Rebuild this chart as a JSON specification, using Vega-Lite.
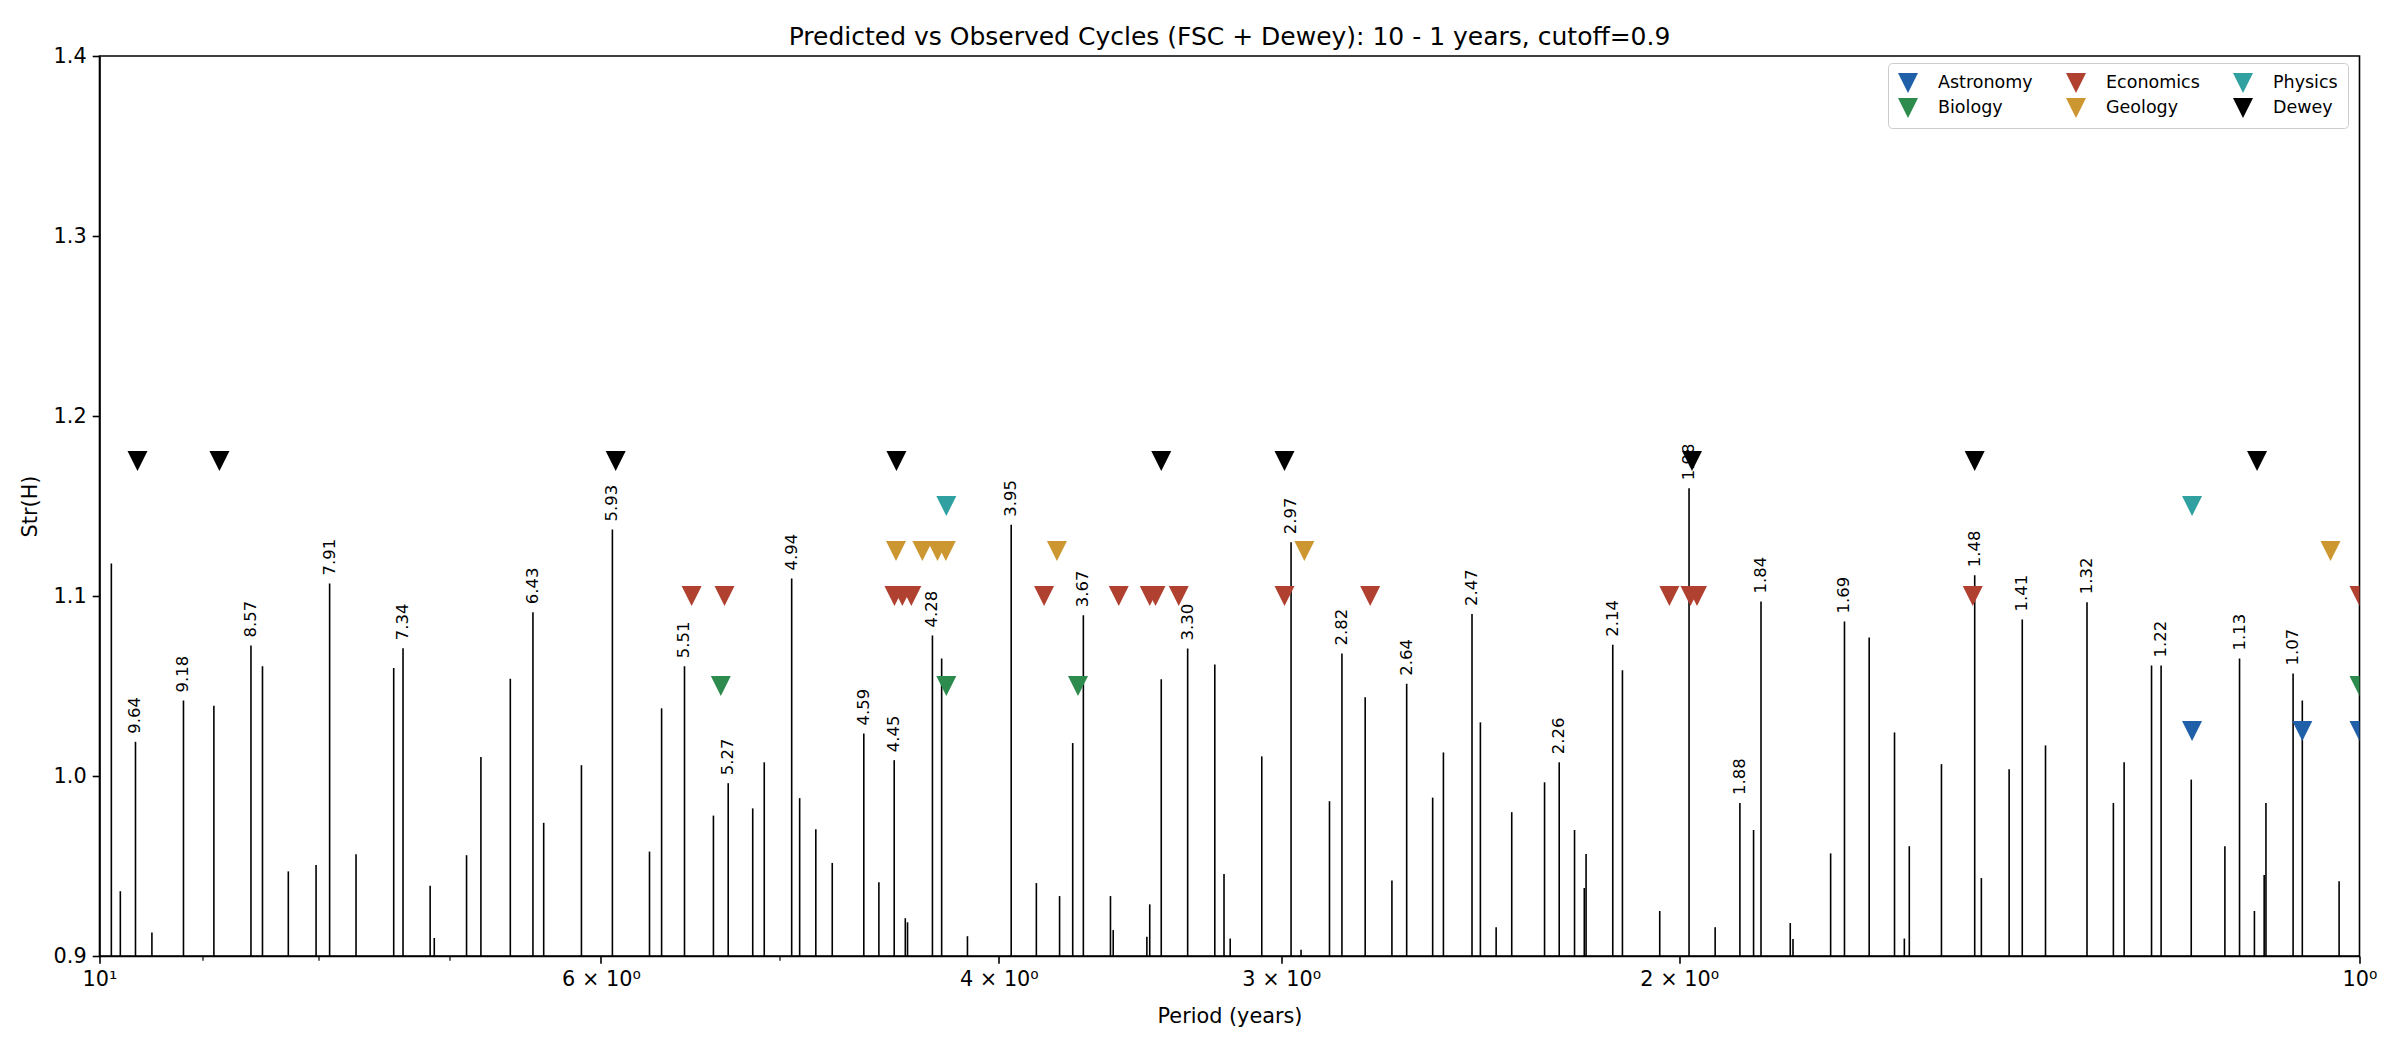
{
  "$schema": "https://vega.github.io/schema/vega-lite/v6.json",
  "autosize": {"type": "none"},
  "width": 2260,
  "height": 900,
  "padding": {"left": 99.5, "top": 56, "right": 40.5, "bottom": 94},
  "background": "white",
  "config": {
    "font": "DejaVu Sans",
    "view": {"stroke": "black", "strokeWidth": 1.6},
    "axis": {
      "grid": false,
      "domainColor": "black",
      "domainWidth": 1.6,
      "tickColor": "black",
      "labelColor": "black",
      "titleColor": "black",
      "labelFont": "DejaVu Sans",
      "titleFont": "DejaVu Sans",
      "labelFontSize": 20.8,
      "titleFontSize": 20.8,
      "titleFontWeight": "normal"
    }
  },
  "title": {
    "text": "Predicted vs Observed Cycles (FSC + Dewey): 10 - 1 years, cutoff=0.9",
    "anchor": "middle",
    "fontSize": 25,
    "fontWeight": "normal",
    "font": "DejaVu Sans",
    "color": "black",
    "offset": -5
  },
  "datasets": {
    "peaks": [
      {"period": 9.88, "strength": 1.118, "label": ""},
      {"period": 9.79, "strength": 0.936, "label": ""},
      {"period": 9.64, "strength": 1.019, "label": "9.64"},
      {"period": 9.48, "strength": 0.913, "label": ""},
      {"period": 9.18, "strength": 1.042, "label": "9.18"},
      {"period": 8.90, "strength": 1.039, "label": ""},
      {"period": 8.57, "strength": 1.0725, "label": "8.57"},
      {"period": 8.47, "strength": 1.061, "label": ""},
      {"period": 8.25, "strength": 0.947, "label": ""},
      {"period": 8.02, "strength": 0.9505, "label": ""},
      {"period": 7.91, "strength": 1.107, "label": "7.91"},
      {"period": 7.70, "strength": 0.9565, "label": ""},
      {"period": 7.41, "strength": 1.060, "label": ""},
      {"period": 7.34, "strength": 1.071, "label": "7.34"},
      {"period": 7.14, "strength": 0.939, "label": ""},
      {"period": 7.11, "strength": 0.910, "label": ""},
      {"period": 6.88, "strength": 0.956, "label": ""},
      {"period": 6.78, "strength": 1.0105, "label": ""},
      {"period": 6.58, "strength": 1.054, "label": ""},
      {"period": 6.43, "strength": 1.091, "label": "6.43"},
      {"period": 6.36, "strength": 0.974, "label": ""},
      {"period": 6.12, "strength": 1.006, "label": ""},
      {"period": 5.93, "strength": 1.137, "label": "5.93"},
      {"period": 5.71, "strength": 0.958, "label": ""},
      {"period": 5.64, "strength": 1.0376, "label": ""},
      {"period": 5.51, "strength": 1.061, "label": "5.51"},
      {"period": 5.35, "strength": 0.978, "label": ""},
      {"period": 5.27, "strength": 0.996, "label": "5.27"},
      {"period": 5.14, "strength": 0.982, "label": ""},
      {"period": 5.08, "strength": 1.0076, "label": ""},
      {"period": 4.94, "strength": 1.1097, "label": "4.94"},
      {"period": 4.90, "strength": 0.9877, "label": ""},
      {"period": 4.82, "strength": 0.9704, "label": ""},
      {"period": 4.74, "strength": 0.9517, "label": ""},
      {"period": 4.59, "strength": 1.0236, "label": "4.59"},
      {"period": 4.52, "strength": 0.941, "label": ""},
      {"period": 4.45, "strength": 1.0088, "label": "4.45"},
      {"period": 4.40, "strength": 0.921, "label": ""},
      {"period": 4.39, "strength": 0.9187, "label": ""},
      {"period": 4.28, "strength": 1.078, "label": "4.28"},
      {"period": 4.24, "strength": 1.0653, "label": ""},
      {"period": 4.13, "strength": 0.911, "label": ""},
      {"period": 3.95, "strength": 1.1396, "label": "3.95"},
      {"period": 3.85, "strength": 0.9405, "label": ""},
      {"period": 3.76, "strength": 0.9333, "label": ""},
      {"period": 3.71, "strength": 1.0183, "label": ""},
      {"period": 3.67, "strength": 1.0893, "label": "3.67"},
      {"period": 3.57, "strength": 0.9333, "label": ""},
      {"period": 3.56, "strength": 0.9144, "label": ""},
      {"period": 3.44, "strength": 0.9107, "label": ""},
      {"period": 3.43, "strength": 0.9287, "label": ""},
      {"period": 3.39, "strength": 1.0538, "label": ""},
      {"period": 3.30, "strength": 1.0708, "label": "3.30"},
      {"period": 3.21, "strength": 1.062, "label": ""},
      {"period": 3.18, "strength": 0.9456, "label": ""},
      {"period": 3.16, "strength": 0.9097, "label": ""},
      {"period": 3.06, "strength": 1.0109, "label": ""},
      {"period": 2.97, "strength": 1.1298, "label": "2.97"},
      {"period": 2.94, "strength": 0.9035, "label": ""},
      {"period": 2.856, "strength": 0.986, "label": ""},
      {"period": 2.82, "strength": 1.068, "label": "2.82"},
      {"period": 2.754, "strength": 1.0437, "label": ""},
      {"period": 2.68, "strength": 0.942, "label": ""},
      {"period": 2.64, "strength": 1.0513, "label": "2.64"},
      {"period": 2.571, "strength": 0.988, "label": ""},
      {"period": 2.543, "strength": 1.0131, "label": ""},
      {"period": 2.47, "strength": 1.090, "label": "2.47"},
      {"period": 2.449, "strength": 1.0298, "label": ""},
      {"period": 2.41, "strength": 0.916, "label": ""},
      {"period": 2.372, "strength": 0.9799, "label": ""},
      {"period": 2.294, "strength": 0.9965, "label": ""},
      {"period": 2.26, "strength": 1.0076, "label": "2.26"},
      {"period": 2.225, "strength": 0.970, "label": ""},
      {"period": 2.203, "strength": 0.9378, "label": ""},
      {"period": 2.199, "strength": 0.9567, "label": ""},
      {"period": 2.14, "strength": 1.0729, "label": "2.14"},
      {"period": 2.119, "strength": 1.0587, "label": ""},
      {"period": 2.040, "strength": 0.925, "label": ""},
      {"period": 1.98, "strength": 1.1598, "label": "1.98"},
      {"period": 1.928, "strength": 0.916, "label": ""},
      {"period": 1.88, "strength": 0.985, "label": "1.88"},
      {"period": 1.854, "strength": 0.970, "label": ""},
      {"period": 1.84, "strength": 1.0969, "label": "1.84"},
      {"period": 1.786, "strength": 0.9183, "label": ""},
      {"period": 1.781, "strength": 0.9094, "label": ""},
      {"period": 1.714, "strength": 0.957, "label": ""},
      {"period": 1.69, "strength": 1.0858, "label": "1.69"},
      {"period": 1.648, "strength": 1.077, "label": ""},
      {"period": 1.606, "strength": 1.0242, "label": ""},
      {"period": 1.590, "strength": 0.9097, "label": ""},
      {"period": 1.582, "strength": 0.961, "label": ""},
      {"period": 1.531, "strength": 1.0066, "label": ""},
      {"period": 1.48, "strength": 1.1115, "label": "1.48"},
      {"period": 1.470, "strength": 0.9433, "label": ""},
      {"period": 1.429, "strength": 1.0037, "label": ""},
      {"period": 1.41, "strength": 1.087, "label": "1.41"},
      {"period": 1.377, "strength": 1.017, "label": ""},
      {"period": 1.32, "strength": 1.0965, "label": "1.32"},
      {"period": 1.285, "strength": 0.985, "label": ""},
      {"period": 1.271, "strength": 1.0076, "label": ""},
      {"period": 1.236, "strength": 1.0614, "label": ""},
      {"period": 1.224, "strength": 1.0614, "label": "1.22"},
      {"period": 1.187, "strength": 0.998, "label": ""},
      {"period": 1.147, "strength": 0.961, "label": ""},
      {"period": 1.13, "strength": 1.0653, "label": "1.13"},
      {"period": 1.113, "strength": 0.925, "label": ""},
      {"period": 1.102, "strength": 0.945, "label": ""},
      {"period": 1.100, "strength": 0.985, "label": ""},
      {"period": 1.07, "strength": 1.0569, "label": "1.07"},
      {"period": 1.060, "strength": 1.042, "label": ""},
      {"period": 1.021, "strength": 0.9415, "label": ""}
    ],
    "cycles": [
      {"source": "Dewey", "period": 9.62, "level": 1.175},
      {"source": "Dewey", "period": 8.85, "level": 1.175},
      {"source": "Dewey", "period": 5.91, "level": 1.175},
      {"source": "Dewey", "period": 4.44, "level": 1.175},
      {"source": "Dewey", "period": 3.39, "level": 1.175},
      {"source": "Dewey", "period": 2.99, "level": 1.175},
      {"source": "Dewey", "period": 1.974, "level": 1.175},
      {"source": "Dewey", "period": 1.48, "level": 1.175},
      {"source": "Dewey", "period": 1.11, "level": 1.175},
      {"source": "Physics", "period": 4.22, "level": 1.15},
      {"source": "Physics", "period": 1.186, "level": 1.15},
      {"source": "Geology", "period": 4.442, "level": 1.125},
      {"source": "Geology", "period": 4.324, "level": 1.125},
      {"source": "Geology", "period": 4.258, "level": 1.125},
      {"source": "Geology", "period": 4.222, "level": 1.125},
      {"source": "Geology", "period": 3.77, "level": 1.125},
      {"source": "Geology", "period": 2.93, "level": 1.125},
      {"source": "Geology", "period": 1.03, "level": 1.125},
      {"source": "Economics", "period": 5.47, "level": 1.1},
      {"source": "Economics", "period": 5.29, "level": 1.1},
      {"source": "Economics", "period": 4.449, "level": 1.1},
      {"source": "Economics", "period": 4.413, "level": 1.1},
      {"source": "Economics", "period": 4.373, "level": 1.1},
      {"source": "Economics", "period": 3.82, "level": 1.1},
      {"source": "Economics", "period": 3.54, "level": 1.1},
      {"source": "Economics", "period": 3.43, "level": 1.1},
      {"source": "Economics", "period": 3.41, "level": 1.1},
      {"source": "Economics", "period": 3.33, "level": 1.1},
      {"source": "Economics", "period": 2.99, "level": 1.1},
      {"source": "Economics", "period": 2.74, "level": 1.1},
      {"source": "Economics", "period": 2.02, "level": 1.1},
      {"source": "Economics", "period": 1.977, "level": 1.1},
      {"source": "Economics", "period": 1.964, "level": 1.1},
      {"source": "Economics", "period": 1.483, "level": 1.1},
      {"source": "Economics", "period": 1.0, "level": 1.1},
      {"source": "Biology", "period": 5.31, "level": 1.05},
      {"source": "Biology", "period": 4.22, "level": 1.05},
      {"source": "Biology", "period": 3.69, "level": 1.05},
      {"source": "Biology", "period": 1.0, "level": 1.05},
      {"source": "Astronomy", "period": 1.186, "level": 1.025},
      {"source": "Astronomy", "period": 1.06, "level": 1.025},
      {"source": "Astronomy", "period": 1.0, "level": 1.025}
    ]
  },
  "encoding": {
    "x": {
      "field": "period",
      "type": "quantitative",
      "scale": {"type": "log", "domain": [1, 10], "reverse": true, "nice": false},
      "axis": {
        "title": "Period (years)",
        "values": [1, 2, 3, 4, 5, 6, 7, 8, 9, 10],
        "labelExpr": "datum.value == 10 ? '10¹' : datum.value == 1 ? '10⁰' : indexof([2, 3, 4, 6], datum.value) >= 0 ? datum.value + ' × 10⁰' : ''",
        "labelPadding": 6,
        "labelFlush": false,
        "labelOverlap": false,
        "tickSize": {"condition": {"test": "indexof([1, 2, 3, 4, 6, 10], datum.value) >= 0", "value": 7.3}, "value": 4.2},
        "tickWidth": {"condition": {"test": "indexof([1, 2, 3, 4, 6, 10], datum.value) >= 0", "value": 1.6}, "value": 1.2},
        "titleY": 66,
        "titleBaseline": "alphabetic"
      }
    }
  },
  "layer": [
    {
      "data": {"name": "peaks"},
      "mark": {"type": "rule", "color": "#000000", "strokeWidth": 1.6},
      "encoding": {
        "y": {
          "field": "strength",
          "type": "quantitative",
          "scale": {"domain": [0.9, 1.4], "nice": false, "zero": false},
          "axis": {
            "title": "Str(H)",
            "values": [0.9, 1.0, 1.1, 1.2, 1.3, 1.4],
            "format": ".1f",
            "tickSize": 7.3,
            "tickWidth": 1.6,
            "labelPadding": 6,
            "titleX": -69,
            "titleBaseline": "middle"
          }
        },
        "y2": {"datum": 0.9}
      }
    },
    {
      "data": {"name": "peaks"},
      "transform": [{"filter": "datum.label != ''"}],
      "mark": {
        "type": "text",
        "angle": 270,
        "align": "left",
        "baseline": "middle",
        "dx": 8,
        "fontSize": 16.5,
        "font": "DejaVu Sans",
        "color": "black"
      },
      "encoding": {
        "y": {"field": "strength", "type": "quantitative"},
        "text": {"field": "label"}
      }
    },
    {
      "data": {"name": "cycles"},
      "mark": {
        "type": "point",
        "shape": "M-1,-1L1,-1L0,1Z",
        "filled": true,
        "opacity": 1,
        "size": 400,
        "strokeWidth": 0,
        "clip": true
      },
      "encoding": {
        "y": {"field": "level", "type": "quantitative"},
        "color": {
          "field": "source",
          "type": "nominal",
          "scale": {
            "domain": ["Astronomy", "Biology", "Economics", "Geology", "Physics", "Dewey"],
            "range": ["#2060a8", "#2e8b4e", "#b04030", "#cc9630", "#30a0a0", "#000000"]
          },
          "legend": {
            "title": null,
            "orient": "none",
            "legendX": 1788.5,
            "legendY": 7,
            "columns": 3,
            "symbolType": "M-1,-1L1,-1L0,1Z",
            "symbolSize": 400,
            "symbolStrokeWidth": 0,
            "labelFont": "DejaVu Sans",
            "labelFontSize": 17.5,
            "labelColor": "black",
            "labelOffset": 20,
            "columnPadding": 33,
            "rowPadding": 5,
            "padding": 10,
            "strokeColor": "#cccccc",
            "fillColor": "white",
            "cornerRadius": 4
          }
        }
      }
    }
  ]
}
